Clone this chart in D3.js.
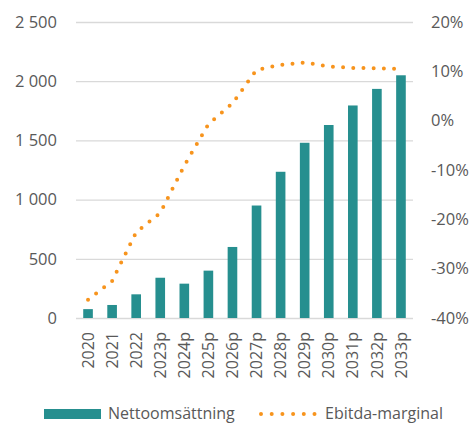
<!DOCTYPE html>
<html>
<head>
<meta charset="utf-8">
<script src="https://cdn.jsdelivr.net/npm/d3@7"></script>
<style>
  body { margin: 0; background: #fff; }
  text { font-family: "Open Sans", sans-serif; fill: #595959; }
</style>
</head>
<body>
<svg width="473" height="423"></svg>
<script>
const years = ["2020", "2021", "2022", "2023p", "2024p", "2025p", "2026p",
  "2027p", "2028p", "2029p", "2030p", "2031p", "2032p", "2033p"];
const sales = [75, 110, 200, 340, 290, 400, 600, 950, 1235, 1480, 1630, 1795, 1935, 2050];
const margin = [-36.3, -32.5, -22.6, -18.7, -9.1, -0.7, 3.5, 10.3, 11.3, 11.8, 11.0, 10.7, 10.6, 10.5];
const leftTicks = [0, 500, 1000, 1500, 2000, 2500];
const rightTicks = [-40, -30, -20, -10, 0, 10, 20];

const TEAL = "#268f8f", ORANGE = "#f7941d";
const svg = d3.select("svg");
const pl = 76, pr = 413, pt = 22, pb = 318;
const FS = 16.5;

const x = d3.scaleBand().domain(years).range([pl, pr]).paddingInner(0.6).paddingOuter(0.3);
const y = d3.scaleLinear().domain([0, 2500]).range([pb, pt]);
const y2 = d3.scaleLinear().domain([-40, 20]).range([pb, pt]);

const fmt = d => d3.format(",")(d).replace(",", " ");

// gridlines
svg.append("g")
  .attr("transform", `translate(${pl},0)`)
  .call(d3.axisLeft(y).tickValues(leftTicks).tickSize(-(pr - pl)).tickFormat(""))
  .call(g => g.select(".domain").remove())
  .call(g => g.selectAll("line").attr("stroke", "#d9d9d9").attr("stroke-width", 1.3));

// left axis labels
svg.append("g")
  .attr("transform", `translate(${pl},0)`)
  .call(d3.axisLeft(y).tickValues(leftTicks).tickSize(0).tickPadding(19).tickFormat(fmt))
  .call(g => g.select(".domain").remove())
  .call(g => g.selectAll("text").attr("font-size", FS).attr("fill", "#595959")
    .style("font-family", "Open Sans"));

// right axis labels
svg.append("g")
  .attr("transform", `translate(${pr},0)`)
  .call(d3.axisRight(y2).tickValues(rightTicks).tickSize(0).tickPadding(18).tickFormat(d => d + "%"))
  .call(g => g.select(".domain").remove())
  .call(g => g.selectAll("text").attr("font-size", FS).attr("fill", "#595959")
    .style("font-family", "Open Sans"));

// bars
svg.append("g").selectAll("rect")
  .data(years)
  .join("rect")
  .attr("x", d => x(d))
  .attr("width", x.bandwidth())
  .attr("y", (d, i) => y(sales[i]))
  .attr("height", (d, i) => y(0) - y(sales[i]))
  .attr("fill", TEAL);

// x labels
svg.append("g")
  .attr("transform", `translate(0,${pb})`)
  .call(d3.axisBottom(x).tickSize(0).tickPadding(0))
  .call(g => g.select(".domain").remove())
  .call(g => g.selectAll("text")
    .attr("transform", "rotate(-90)")
    .attr("text-anchor", "end")
    .attr("x", -14)
    .attr("y", 0)
    .attr("dy", "0.35em")
    .attr("font-size", 16)
    .attr("fill", "#595959")
    .style("font-family", "Open Sans"));

// margin line
const line = d3.line()
  .x((d, i) => x(years[i]) + x.bandwidth() / 2)
  .y(d => y2(d));

svg.append("path")
  .datum(margin)
  .attr("d", line)
  .attr("fill", "none")
  .attr("stroke", ORANGE)
  .attr("stroke-width", 4)
  .attr("stroke-linecap", "round")
  .attr("stroke-dasharray", "0 10.2");

// legend
const lg = svg.append("g");
lg.append("rect").attr("x", 44).attr("y", 409).attr("width", 57).attr("height", 10).attr("fill", TEAL);
lg.append("text").attr("x", 108).attr("y", 418.5).attr("font-size", 16).text("Nettoomsättning");
lg.append("path")
  .attr("d", "M261,414H315")
  .attr("stroke", ORANGE)
  .attr("stroke-width", 4)
  .attr("stroke-linecap", "round")
  .attr("stroke-dasharray", "0 10.7");
lg.append("text").attr("x", 325).attr("y", 418.5).attr("font-size", 16).text("Ebitda-marginal");
</script>
</body>
</html>
